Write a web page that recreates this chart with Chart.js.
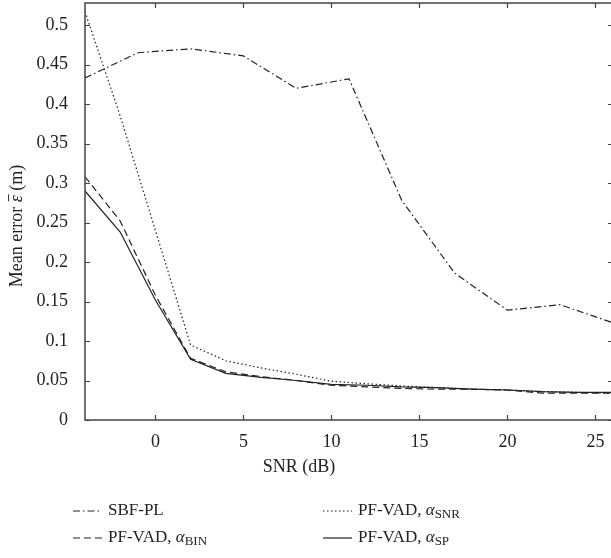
<!DOCTYPE html>
<html>
<head>
<meta charset="utf-8">
<script src="https://cdn.jsdelivr.net/npm/chart.js@4.4.0/dist/chart.umd.min.js"></script>
<style>
  html, body { margin: 0; padding: 0; background: #fff; }
  #wrap { width: 611px; height: 558px; overflow: hidden; position: relative; }
  canvas { display: block; }
</style>
</head>
<body>
<div id="wrap"><canvas id="errChart" width="614" height="558"></canvas></div>
<script>
// SBF-PL was evaluated on a coarser SNR grid (3 dB steps)
const snrCoarse = [-4, -1, 2, 5, 8, 11, 14, 17, 20, 23, 26];
const sbfPL = [0.433, 0.465, 0.470, 0.461, 0.420, 0.432, 0.278, 0.186, 0.139, 0.146, 0.123];

// PF-VAD runs, 2 dB steps
const snrFine = [-4, -2, 0, 2, 4, 6, 8, 10, 12, 14, 16, 18, 20, 22, 24, 26];
const pfSnr = [0.517, 0.385, 0.24, 0.095, 0.075, 0.066, 0.058, 0.049, 0.046, 0.043, 0.041, 0.039, 0.038, 0.036, 0.035, 0.034];
const pfBin = [0.308, 0.252, 0.158, 0.078, 0.061, 0.055, 0.050, 0.044, 0.042, 0.040, 0.039, 0.039, 0.038, 0.034, 0.034, 0.034];
const pfSp  = [0.290, 0.238, 0.152, 0.077, 0.059, 0.054, 0.050, 0.045, 0.044, 0.042, 0.041, 0.039, 0.038, 0.036, 0.035, 0.035];

const xTicks = [0, 5, 10, 15, 20, 25];
const yTicks = [0, 0.05, 0.1, 0.15, 0.2, 0.25, 0.3, 0.35, 0.4, 0.45, 0.5];

const serif = "'Liberation Serif', 'DejaVu Serif', serif";
const ink = "#222";

function pts(xs, ys) {
    return xs.map((x, i) => ({x: x, y: ys[i]}));
}

// draws the box, inward ticks on all four sides, axis titles and the legend
const frameAndLegend = {
    id: 'frameAndLegend',
    afterDraw: function(chart) {
        const {ctx, chartArea, scales} = chart;
        const {left, right, top, bottom} = chartArea;
        ctx.save();
        ctx.strokeStyle = "#444";
        ctx.lineWidth = 1.5;
        ctx.strokeRect(left, top, right - left, bottom - top);

        ctx.lineWidth = 1.2;
        const tl = 5;
        ctx.beginPath();
        xTicks.forEach(v => {
            const px = Math.round(scales.x.getPixelForValue(v)) + 0.5;
            ctx.moveTo(px, bottom); ctx.lineTo(px, bottom - tl);
            ctx.moveTo(px, top); ctx.lineTo(px, top + tl);
        });
        yTicks.forEach(v => {
            const py = Math.round(scales.y.getPixelForValue(v)) + 0.5;
            ctx.moveTo(left, py); ctx.lineTo(left + tl, py);
            ctx.moveTo(right, py); ctx.lineTo(right - tl, py);
        });
        ctx.stroke();

        ctx.fillStyle = ink;
        ctx.textBaseline = "middle";

        // x title
        ctx.font = `18px ${serif}`;
        ctx.textAlign = "center";
        ctx.fillText("SNR (dB)", 299, 467);

        // y title, rotated
        ctx.save();
        ctx.translate(17, 226);
        ctx.rotate(-Math.PI / 2);
        ctx.textAlign = "left";
        const p1 = "Mean error ";
        const p3 = " (m)";
        ctx.font = `18px ${serif}`;
        const w1 = ctx.measureText(p1).width;
        const w3 = ctx.measureText(p3).width;
        ctx.font = `italic 18px ${serif}`;
        const w2 = ctx.measureText("ε").width;
        let x0 = -(w1 + w2 + w3) / 2;
        ctx.font = `18px ${serif}`;
        ctx.fillText(p1, x0, 0);
        ctx.font = `italic 18px ${serif}`;
        ctx.fillText("ε", x0 + w1, 0);
        ctx.strokeStyle = ink;
        ctx.lineWidth = 0.9;
        ctx.beginPath();
        ctx.moveTo(x0 + w1 + 1, -8.5);
        ctx.lineTo(x0 + w1 + w2 + 1, -8.5);
        ctx.stroke();
        ctx.font = `18px ${serif}`;
        ctx.fillText(p3, x0 + w1 + w2, 0);
        ctx.restore();

        // legend, 2 x 2
        const slots = [
            {ds: 0, lx: 73, y: 511},
            {ds: 1, lx: 323, y: 511},
            {ds: 2, lx: 73, y: 538},
            {ds: 3, lx: 323, y: 538}
        ];
        slots.forEach(s => {
            const d = chart.data.datasets[s.ds];
            ctx.strokeStyle = ink;
            ctx.lineWidth = 1.2;
            ctx.setLineDash(d.borderDash || []);
            ctx.beginPath();
            ctx.moveTo(s.lx, s.y);
            ctx.lineTo(s.lx + 29, s.y);
            ctx.stroke();
            ctx.setLineDash([]);

            const parts = d.label.split("_");
            let tx = s.lx + 35;
            ctx.textAlign = "left";
            if (parts.length === 1) {
                ctx.font = `17px ${serif}`;
                ctx.fillText(parts[0], tx, s.y);
            } else {
                const main = parts[0].replace("α", "");
                ctx.font = `17px ${serif}`;
                ctx.fillText(main, tx, s.y);
                tx += ctx.measureText(main).width;
                ctx.font = `italic 17px ${serif}`;
                ctx.fillText("α", tx, s.y);
                tx += ctx.measureText("α").width;
                ctx.font = `13px ${serif}`;
                ctx.fillText(parts[1], tx, s.y + 4);
            }
        });
        ctx.restore();
    }
};

const lineBase = {
    borderColor: ink,
    borderWidth: 1.2,
    pointRadius: 0,
    tension: 0,
    fill: false
};

new Chart(document.getElementById("errChart"), {
    type: "line",
    data: {
        datasets: [
            {...lineBase, label: "SBF-PL", data: pts(snrCoarse, sbfPL), borderDash: [7, 3, 1.5, 3]},
            {...lineBase, label: "PF-VAD, α_SNR", data: pts(snrFine, pfSnr), borderDash: [1.5, 2.5]},
            {...lineBase, label: "PF-VAD, α_BIN", data: pts(snrFine, pfBin), borderDash: [7, 4]},
            {...lineBase, label: "PF-VAD, α_SP", data: pts(snrFine, pfSp)}
        ]
    },
    options: {
        responsive: false,
        animation: false,
        layout: {padding: {top: 3, right: 1, left: 0, bottom: 0}},
        plugins: {
            legend: {display: false},
            tooltip: {enabled: false}
        },
        scales: {
            x: {
                type: "linear",
                min: -4,
                max: 26,
                afterBuildTicks: s => { s.ticks = xTicks.map(v => ({value: v})); },
                afterFit: s => { s.height = 138; s.paddingLeft = 0; s.paddingRight = 0; },
                grid: {display: false},
                border: {display: false},
                ticks: {
                    color: ink,
                    font: {family: serif, size: 18},
                    padding: 3,
                    maxRotation: 0
                }
            },
            y: {
                type: "linear",
                min: 0,
                max: 0.528,
                afterBuildTicks: s => { s.ticks = yTicks.map(v => ({value: v})); },
                afterFit: s => { s.width = 85; s.paddingTop = 0; s.paddingBottom = 0; },
                grid: {display: false},
                border: {display: false},
                ticks: {
                    color: ink,
                    font: {family: serif, size: 18},
                    padding: 9,
                    callback: v => String(v)
                }
            }
        }
    },
    plugins: [frameAndLegend]
});
</script>
</body>
</html>
